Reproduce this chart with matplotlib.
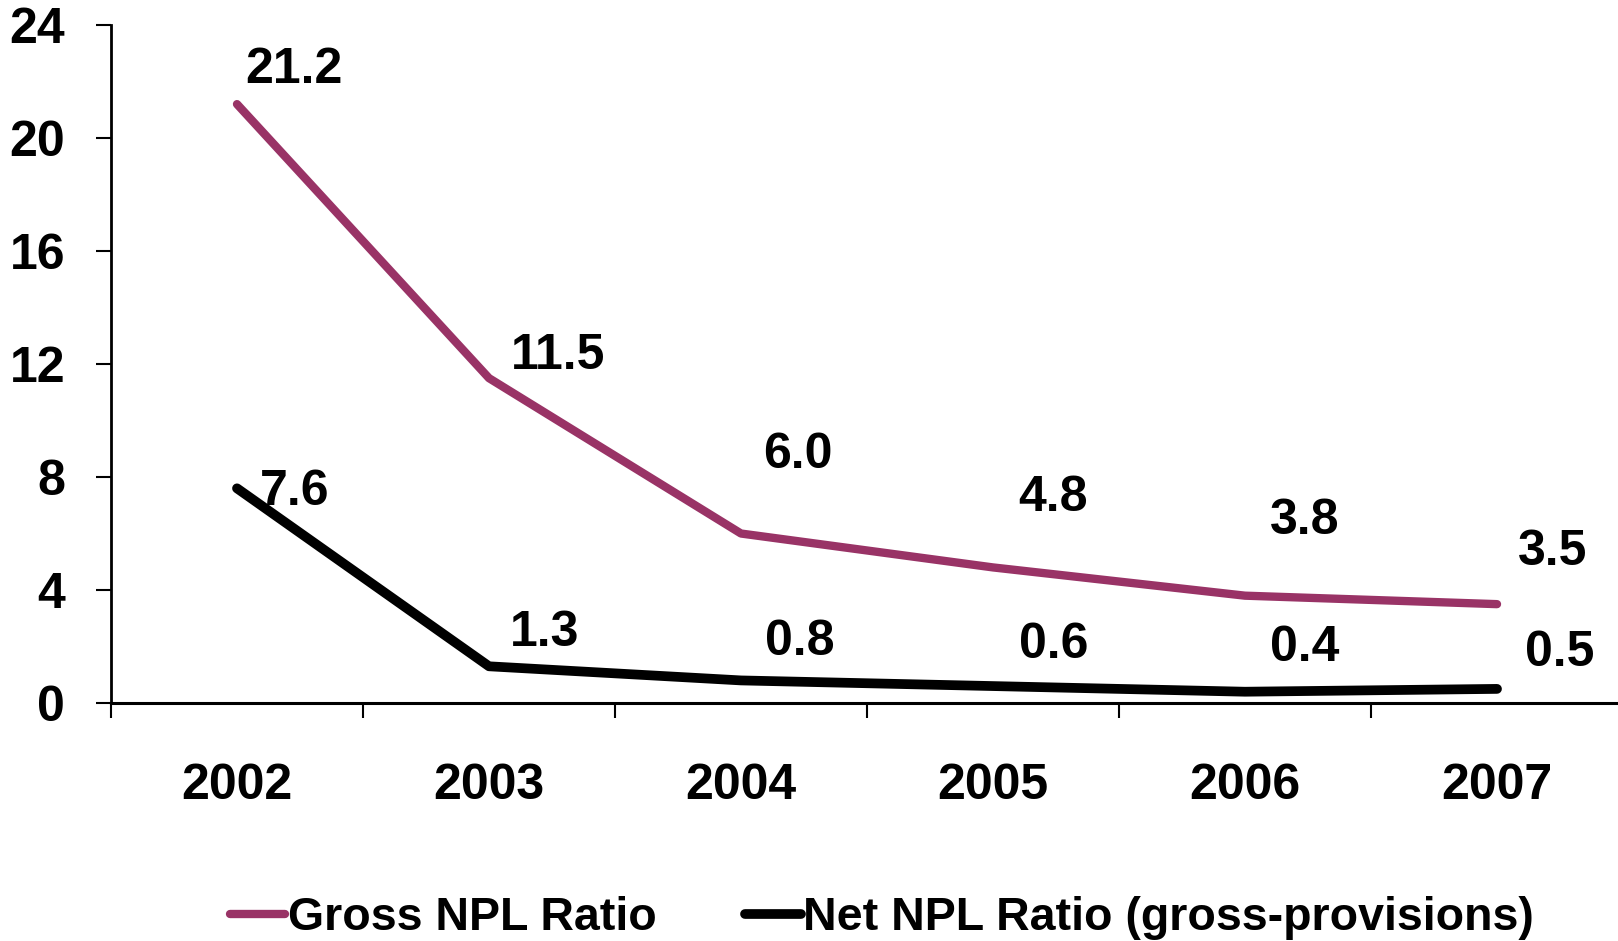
import matplotlib
matplotlib.use("Agg")
import matplotlib.pyplot as plt

# data
years = ["2002", "2003", "2004", "2005", "2006", "2007"]
gross_npl = [21.2, 11.5, 6.0, 4.8, 3.8, 3.5]
net_npl = [7.6, 1.3, 0.8, 0.6, 0.4, 0.5]

# label offsets in pixels (excel put them by hand)
gross_off = [(57, 34), (69, 22), (57, 79), (60, 69), (60, 75), (56, 52)]
net_off = [(58, -4), (56, 33), (59, 38), (61, 41), (60, 44), (63, 36)]

plt.rcParams["font.family"] = ["Liberation Sans", "DejaVu Sans"]
plt.rcParams["font.weight"] = "bold"
FS = 36

fig = plt.figure(figsize=(16.18, 9.41), dpi=100)
ax = fig.add_axes([0.0686, 0.2529, 0.9345, 0.7205])

x = list(range(len(years)))
ax.plot(x, gross_npl, color="#993366", lw=6, solid_capstyle="round",
        solid_joinstyle="round", label="Gross NPL Ratio")
ax.plot(x, net_npl, color="black", lw=7, solid_capstyle="round",
        solid_joinstyle="round", label="Net NPL Ratio (gross-provisions)")

for xi, v, off in zip(x, gross_npl, gross_off):
    ax.annotate("{:.1f}".format(v), (xi, v), xytext=off, textcoords="offset pixels",
                ha="center", va="center", fontsize=FS, fontweight="bold")
for xi, v, off in zip(x, net_npl, net_off):
    ax.annotate("{:.1f}".format(v), (xi, v), xytext=off, textcoords="offset pixels",
                ha="center", va="center", fontsize=FS, fontweight="bold")

ax.set_xlim(-0.5, len(years) - 0.5)
ax.set_ylim(0, 24)
ax.set_yticks(range(0, 25, 4))
ax.set_xticks([i - 0.5 for i in range(len(years) + 1)])
ax.set_xticklabels([])
ax.set_xticks(x, minor=True)
ax.set_xticklabels(years, minor=True)
ax.tick_params(axis="x", which="minor", length=0, pad=43, labelsize=FS)
ax.tick_params(axis="x", which="major", length=11, width=1.5, direction="out")
ax.tick_params(axis="y", length=11, width=1.5, pad=22, labelsize=FS)
for lab in ax.get_xticklabels(minor=True) + ax.get_yticklabels():
    lab.set_fontweight("bold")

ax.spines["top"].set_visible(False)
ax.spines["right"].set_visible(False)
ax.spines["left"].set_linewidth(2)
ax.spines["bottom"].set_linewidth(2.2)
ax.spines["bottom"].set_clip_on(False)

fig.legend(loc="center", bbox_to_anchor=(0.545, 0.024), ncol=2, frameon=False,
           handlelength=1.2, handletextpad=0.05, columnspacing=1.9,
           prop={"weight": "bold", "size": 33.5})

fig.savefig("out.png", dpi=100)
